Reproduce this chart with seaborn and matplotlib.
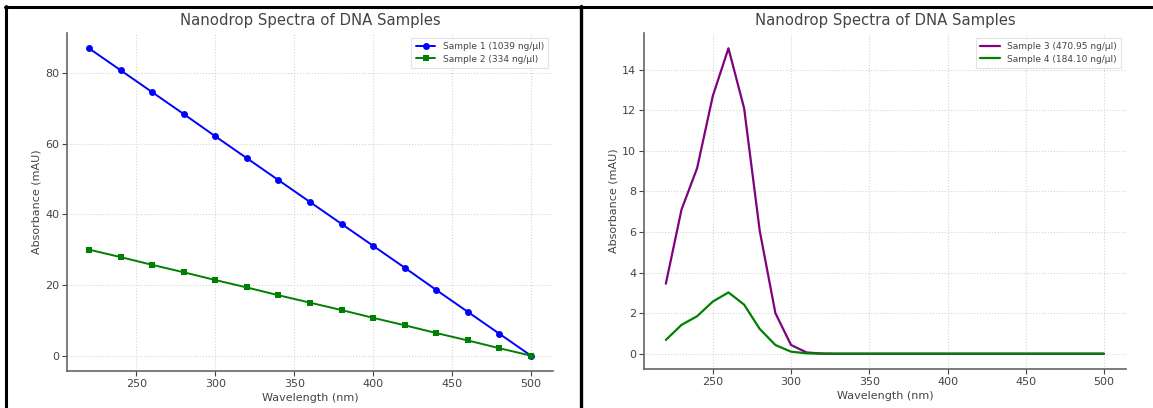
import matplotlib
matplotlib.use("Agg")
import matplotlib.pyplot as plt
import seaborn as sns
from matplotlib.lines import Line2D

# left panel: 20 nm steps
wl_a = [220, 240, 260, 280, 300, 320, 340, 360, 380, 400, 420, 440, 460, 480, 500]
sample1 = [87.0, 80.8, 74.6, 68.4, 62.1, 55.9, 49.7, 43.5, 37.3, 31.1, 24.9, 18.6, 12.4, 6.2, 0.0]
sample2 = [30.0, 27.9, 25.7, 23.6, 21.4, 19.3, 17.1, 15.0, 12.9, 10.7, 8.6, 6.4, 4.3, 2.1, 0.0]

# right panel: 10 nm steps
wl_b = [220, 230, 240, 250, 260, 270, 280, 290, 300, 310, 320, 330, 340, 350, 360,
        370, 380, 390, 400, 410, 420, 430, 440, 450, 460, 470, 480, 490, 500]
sample3 = [3.45, 7.1, 9.15, 12.7, 15.05, 12.1, 6.05, 2.0, 0.43, 0.06, 0.01, 0, 0, 0, 0,
           0, 0, 0, 0, 0, 0, 0, 0, 0, 0, 0, 0, 0, 0]
sample4 = [0.68, 1.42, 1.85, 2.57, 3.02, 2.42, 1.22, 0.43, 0.1, 0.02, 0, 0, 0, 0, 0,
           0, 0, 0, 0, 0, 0, 0, 0, 0, 0, 0, 0, 0, 0]

title = "Nanodrop Spectra of DNA Samples"
xlabel = "Wavelength (nm)"
ylabel = "Absorbance (mAU)"

sns.set_theme(style="whitegrid")
text_col = "#444444"
plt.rcParams.update({
    "font.family": ["DejaVu Sans"],
    "axes.edgecolor": "#666666",
    "axes.linewidth": 1.2,
    "axes.labelcolor": text_col,
    "axes.titlecolor": text_col,
    "xtick.color": text_col,
    "ytick.color": text_col,
    "xtick.bottom": True,
    "ytick.left": True,
    "xtick.major.size": 3.5,
    "ytick.major.size": 3.5,
    "xtick.major.width": 0.8,
    "ytick.major.width": 0.8,
    "xtick.labelsize": 8,
    "ytick.labelsize": 8,
    "axes.labelsize": 8,
    "grid.color": "#d4d4d4",
    "grid.linestyle": ":",
    "grid.linewidth": 0.8,
})

fig = plt.figure(figsize=(11.53, 4.08), dpi=100)
ax1 = fig.add_axes([0.0581, 0.0907, 0.4215, 0.8284])
ax2 = fig.add_axes([0.5585, 0.0956, 0.418, 0.8235])


def style_axes(ax):
    for side in ["top", "right"]:
        ax.spines[side].set_visible(False)
    ax.set_title(title, fontsize=10.7, pad=6)
    ax.set_xlabel(xlabel, labelpad=3)
    ax.set_ylabel(ylabel, labelpad=3)
    ax.set_xticks([250, 300, 350, 400, 450, 500])
    ax.tick_params(pad=2)


sns.lineplot(x=wl_a, y=sample1, ax=ax1, color="blue", marker="o", markersize=5,
             markeredgewidth=0, linewidth=1.4, label="Sample 1 (1039 ng/\u00b5l)")
sns.lineplot(x=wl_a, y=sample2, ax=ax1, color="green", marker="s", markersize=5,
             markeredgewidth=0, linewidth=1.4, label="Sample 2 (334 ng/\u00b5l)")
style_axes(ax1)
ax1.set_yticks([0, 20, 40, 60, 80])

sns.lineplot(x=wl_b, y=sample3, ax=ax2, color="purple", linewidth=1.6,
             label="Sample 3 (470.95 ng/\u00b5l)")
sns.lineplot(x=wl_b, y=sample4, ax=ax2, color="green", linewidth=1.6,
             label="Sample 4 (184.10 ng/\u00b5l)")
style_axes(ax2)
ax2.set_yticks([0, 2, 4, 6, 8, 10, 12, 14])

for ax in (ax1, ax2):
    leg = ax.legend(loc="upper right", fontsize=6.5, frameon=True, fancybox=False,
                    borderpad=0.5, handlelength=2.2, labelspacing=0.4)
    leg.get_frame().set_edgecolor("#dddddd")
    leg.get_frame().set_linewidth(0.8)
    for t in leg.get_texts():
        t.set_color(text_col)

# black frame around the two screenshots
fig.add_artist(Line2D([5 / 1153, 1152 / 1153], [1 - 7 / 408, 1 - 7 / 408], color="black", linewidth=2.2))
fig.add_artist(Line2D([6 / 1153, 6 / 1153], [0, 1 - 6 / 408], color="black", linewidth=2.2))
fig.add_artist(Line2D([581 / 1153, 581 / 1153], [0, 1 - 6 / 408], color="black", linewidth=2.4))

fig.savefig("out.png", dpi=100)
